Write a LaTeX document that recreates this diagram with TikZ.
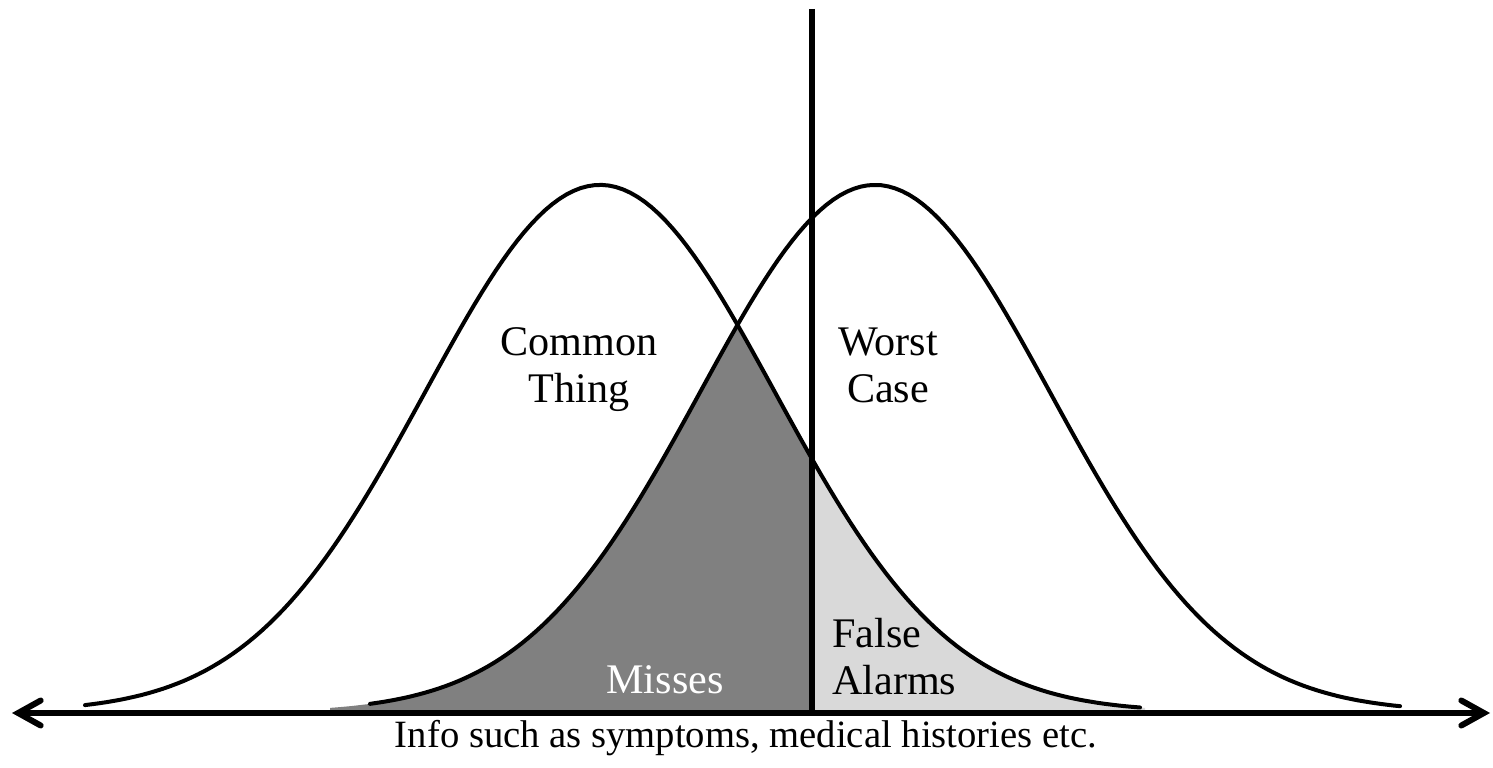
\documentclass[tikz,border=0pt]{standalone}
\usepackage{fontspec}
\setmainfont{Liberation Serif}
\usepackage{tikz}
\usetikzlibrary{arrows.meta,positioning}
\definecolor{SDTMiss}{HTML}{808080}
\definecolor{SDTAlarm}{HTML}{D9D9D9}
\definecolor{SDTInk}{HTML}{000000}

\begin{document}
\begin{tikzpicture}[x=0.02cm, y=-0.02cm,
    declare function={bell(\x,\m)=527*exp(-0.5*((\x-\m)/175)^2);},
    curve/.style={draw=SDTInk, line width=0.08cm, line join=round, line cap=round},
    label/.style={font=\fontsize{24}{26.8}\selectfont, align=center, text=SDTInk},
    axis/.style={line width=0.12cm, {Straight Barb[length=0.45cm, width=0.5cm, line cap=round]}-{Straight Barb[length=0.45cm, width=0.5cm, line cap=round]}}
  ]
    \useasboundingbox (0,0) rectangle (1493,767);
    % shaded overlap
    \fill[SDTMiss] plot[domain=330:812, samples=120] (\x, {712-min(bell(\x,600),bell(\x,875))})
      -- (812,712) -- (330,712) -- cycle;
    \fill[SDTAlarm] plot[domain=812:1145, samples=80] (\x, {712-bell(\x,600)})
      -- (1145,712) -- (812,712) -- cycle;
    % the two distributions
    \draw[curve] plot[domain=85:1140, samples=150] (\x, {712-bell(\x,600)});
    \draw[curve] plot[domain=370:1400, samples=150] (\x, {712-bell(\x,875)});
    \coordinate (thtop) at (812,9);
    \coordinate (thbot) at (812,712);
    \coordinate (axl) at (12,713);
    \coordinate (axr) at (1490,713);
    \draw[line width=0.12cm] (thtop) -- (thbot);
    \draw[axis] (axl) -- (axr);
    \node[label] (common) at (579,370) {Common\\Thing};
    \node[label] (worst) at (888,365) {Worst\\Case};
    \node[label, text=white, anchor=base] (misses) at (665,693) {Misses};
    \node[label, align=left, anchor=west] (alarms) at (826,657) {False\\Alarms};
    \node[label, font=\fontsize{22}{26}\selectfont, anchor=base] (info) at (746,747)
      {Info such as symptoms, medical histories etc.};
  \end{tikzpicture}
\end{document}
